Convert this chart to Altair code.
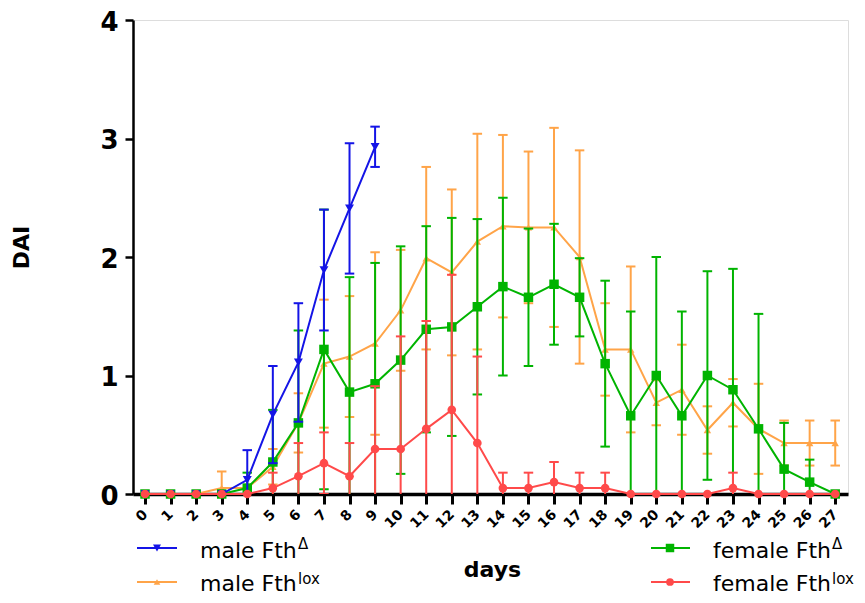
import altair as alt
import pandas as pd

days = list(range(28))

male_delta_mean = [0, 0, 0, 0, 0.12, 0.67, 1.11, 1.89, 2.41, 2.93]
male_delta_sd = [0, 0, 0, 0, 0.25, 0.41, 0.50, 0.51, 0.55, 0.17]

male_lox_mean = [0, 0, 0, 0.05, 0.05, 0.23, 0.60, 1.10, 1.16, 1.27, 1.55, 1.99, 1.87, 2.13,
                 2.26, 2.25, 2.25, 2.00, 1.22, 1.22, 0.77, 0.88, 0.54, 0.77, 0.55, 0.43, 0.43, 0.43]
male_lox_sd = [0, 0, 0, 0.14, 0, 0.15, 0.25, 0.54, 0.51, 0.77, 0.51, 0.77, 0.70, 0.91,
               0.77, 0.64, 0.84, 0.90, 0.39, 0.70, 0.19, 0.38, 0.20, 0.20, 0.38, 0.19, 0.19, 0.19]

female_delta_mean = [0, 0, 0, 0, 0.05, 0.27, 0.60, 1.22, 0.86, 0.93, 1.13, 1.39, 1.41, 1.58,
                     1.75, 1.66, 1.77, 1.66, 1.10, 0.66, 1.00, 0.66, 1.00, 0.88, 0.55, 0.21, 0.10, 0]
female_delta_sd = [0, 0, 0, 0, 0.13, 0.44, 0.78, 1.18, 0.97, 1.02, 0.96, 0.87, 0.92, 0.74,
                   0.75, 0.58, 0.51, 0.33, 0.70, 0.88, 1.00, 0.88, 0.88, 1.02, 0.97, 0.39, 0.19, 0]

female_lox_mean = [0, 0, 0, 0, 0, 0.05, 0.15, 0.26, 0.15, 0.38, 0.38, 0.55, 0.71, 0.43,
                   0.05, 0.05, 0.10, 0.05, 0.05, 0, 0, 0, 0, 0.05, 0, 0, 0, 0]
female_lox_sd = [0, 0, 0, 0, 0, 0.13, 0.28, 0.26, 0.28, 0.53, 0.95, 0.91, 1.14, 0.73,
                 0.13, 0.13, 0.17, 0.13, 0.13, 0, 0, 0, 0, 0.13, 0, 0, 0, 0]

series_keys = ["male_delta", "male_lox", "female_delta", "female_lox"]
legend_main = ["male Fth", "male Fth", "female Fth", "female Fth"]
legend_sup = ["\u0394", "lox", "\u0394", "lox"]
y_ticks = [0, 1, 2, 3, 4]

colors = {"male_delta": "#1414e6", "male_lox": "#ffa448",
          "female_delta": "#00b400", "female_lox": "#ff4a4a"}
shapes = {"male_delta": "triangle-down", "male_lox": "triangle-up",
          "female_delta": "square", "female_lox": "circle"}
sizes = {"male_delta": 80, "male_lox": 55, "female_delta": 90, "female_lox": 75}

rows = []
for key, means, sds in [("male_delta", male_delta_mean, male_delta_sd),
                        ("male_lox", male_lox_mean, male_lox_sd),
                        ("female_delta", female_delta_mean, female_delta_sd),
                        ("female_lox", female_lox_mean, female_lox_sd)]:
    for d, m, s in zip(days, means, sds):
        rows.append({"day": d, "series": key, "mean": m, "sd": s})
df = pd.DataFrame(rows)

FONT = "DejaVu Sans"

axis_x = alt.Axis(values=days, title="days", format="d",
                  titleFont=FONT, titleFontSize=22, titleFontWeight="bold", titleColor="black",
                  titleX=359, titleY=82, titleBaseline="alphabetic", titleAlign="center",
                  labelAngle=-45, labelAlign="right", labelBaseline="middle",
                  labelFont=FONT, labelFontWeight="bold", labelFontSize=14, labelColor="black",
                  labelPadding=8, labelOverlap=False, labelFlush=False,
                  tickSize=10, tickWidth=3, tickColor="black",
                  domainColor="black", domainWidth=3.5, grid=False)
axis_y = alt.Axis(values=y_ticks, title="DAI", format="d",
                  titleFont=FONT, titleFontSize=22, titleFontWeight="bold", titleColor="black",
                  titleAngle=-90, titleX=-112, titleY=227, titleAlign="center", titleBaseline="middle",
                  labelFont=FONT, labelFontWeight="bold", labelFontSize=26, labelColor="black",
                  labelPadding=7, labelOffset=2, tickSize=8, tickWidth=2.5, tickColor="black",
                  domainColor="black", domainWidth=2.5, grid=False)

X = alt.X("day:Q", scale=alt.Scale(domain=[-0.47, 27.5], nice=False, zero=False), axis=axis_x)
Y = alt.Y("mean:Q", scale=alt.Scale(domain=[0, 4], nice=False), axis=axis_y)


def series_layers(key):
    c = colors[key]
    base = alt.Chart(df).transform_filter(alt.datum.series == key)
    err = base.transform_filter(alt.datum.sd > 0).transform_calculate(
        lo=alt.datum.mean - alt.datum.sd, hi=alt.datum.mean + alt.datum.sd)
    bars = err.mark_rule(color=c, strokeWidth=2, clip=True).encode(
        x=X, y=alt.Y("lo:Q", scale=alt.Scale(domain=[0, 4], nice=False)), y2="hi:Q")
    cap_hi = err.mark_point(shape="M-1,0L1,0", size=90, color=c, strokeWidth=2,
                            filled=False, opacity=1, clip=True).encode(
        x=X, y=alt.Y("hi:Q", scale=alt.Scale(domain=[0, 4], nice=False)))
    cap_lo = err.mark_point(shape="M-1,0L1,0", size=90, color=c, strokeWidth=2,
                            filled=False, opacity=1, clip=True).encode(
        x=X, y=alt.Y("lo:Q", scale=alt.Scale(domain=[0, 4], nice=False)))
    line = base.mark_line(color=c, strokeWidth=2).encode(x=X, y=Y)
    pts = base.mark_point(shape=shapes[key], filled=True, size=sizes[key], color=c,
                          opacity=1).encode(x=X, y=Y)
    return [bars, cap_hi, cap_lo, line, pts]


layers = []
for key in ["male_lox", "female_delta", "male_delta", "female_lox"]:
    layers += series_layers(key)

# legend (drawn as text + symbols below the axis)
one = pd.DataFrame({"k": [0]})
leg_pos = [(4, 44, 24, 528, 67, 538, 165, 529),
           (4, 44, 24, 562, 67, 571, 165, 564),
           (518, 557, 537, 528, 580, 538, 699, 529),
           (518, 557, 537, 562, 580, 571, 699, 564)]
for key, main, sup, (x1, x2, xm, yl, xt, yt, xs, ys) in zip(series_keys, legend_main, legend_sup, leg_pos):
    c = colors[key]
    layers.append(alt.Chart(one).mark_rule(color=c, strokeWidth=2).encode(
        x=alt.value(x1), x2=alt.value(x2), y=alt.value(yl)))
    layers.append(alt.Chart(one).mark_point(shape=shapes[key], filled=True, size=sizes[key] * 0.8,
                                            color=c, opacity=1).encode(
        x=alt.value(xm), y=alt.value(yl)))
    layers.append(alt.Chart(one).mark_text(text=main, font=FONT, fontSize=22, color="black",
                                           align="left", baseline="alphabetic").encode(
        x=alt.value(xt), y=alt.value(yt)))
    layers.append(alt.Chart(one).mark_text(text=sup, font=FONT, fontSize=15, color="black",
                                           align="left", baseline="alphabetic").encode(
        x=alt.value(xs), y=alt.value(ys)))

chart = alt.layer(*layers).properties(
    width=715, height=474,
    autosize=alt.AutoSizeParams(type="none"),
    padding={"left": 125, "top": 12, "right": 9, "bottom": 101},
).configure_view(stroke=None).configure(background="white")

chart.save("out.html", embed_options={"renderer": "svg", "actions": False})
